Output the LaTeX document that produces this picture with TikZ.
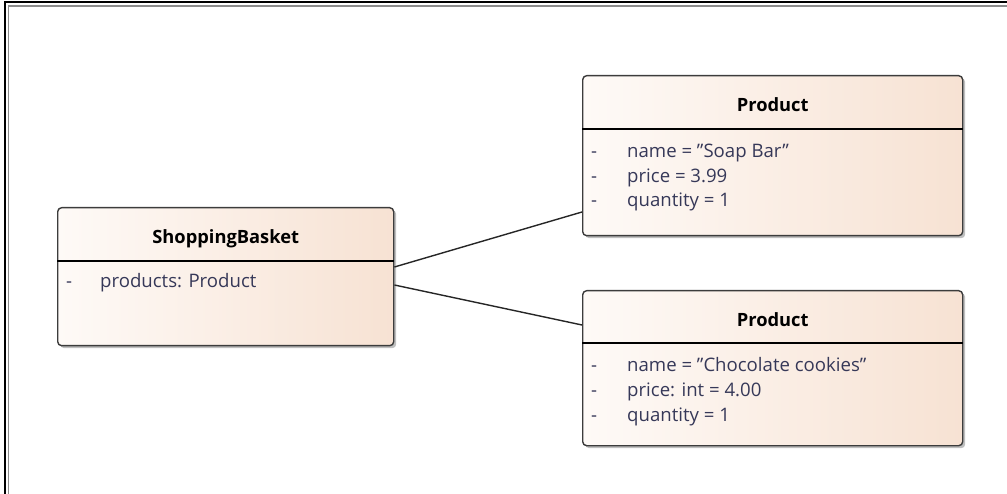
\documentclass[tikz,border=0pt]{standalone}
\usepackage{fontspec}
\setmainfont{Open Sans}
\usetikzlibrary{shadows}
\definecolor{boxleft}{HTML}{FEFAF7}
\definecolor{boxright}{HTML}{F7E2D3}
\definecolor{attr}{HTML}{363858}
\definecolor{edge}{HTML}{3C3C3C}
\tikzset{
  cls/.style={draw=edge, line width=1.4pt, rounded corners=4pt, anchor=north west,
    left color=boxleft, right color=boxright, inner sep=0pt,
    drop shadow={shadow xshift=2.5pt, shadow yshift=-2.5pt, opacity=0.25, fill=black}},
  title/.style={font=\fontsize{18.3}{22}\selectfont\bfseries, text=black, inner sep=0pt, anchor=base},
  attrtxt/.style={font=\fontsize{18.6}{22}\selectfont, text=attr, anchor=base west, inner sep=0pt},
  sep/.style={draw=black, line width=1.2pt},
  link/.style={draw=black!85, line width=1.4pt},
}
\begin{document}
\begin{tikzpicture}[x=1pt,y=-1pt]
\useasboundingbox (0,0) rectangle (1007,494);
% frame
\draw[line width=2pt, black] (1007,2) -- (5,2) -- (5,494);
\draw[line width=1.5pt, black!45] (1007,6) -- (8.5,6) -- (8.5,494);

% ShoppingBasket
\node[cls, minimum width=336pt, minimum height=138pt] (sb) at (57,207) {};
\draw[sep] ([yshift=-54pt]sb.north west) -- ([yshift=-54pt]sb.north east);
\node[title] (sbt) at ([yshift=-37pt]sb.north) {ShoppingBasket};
\node[attrtxt] (sbd1) at ([xshift=9pt,yshift=-81pt]sb.north west) {-};
\node[attrtxt] (sba1) at ([xshift=43pt,yshift=-81pt]sb.north west) {products: Product};

% Product 1
\node[cls, minimum width=380pt, minimum height=160pt] (p1) at (582,75) {};
\draw[sep] ([yshift=-54pt]p1.north west) -- ([yshift=-54pt]p1.north east);
\node[title] (p1t) at ([yshift=-37pt]p1.north) {Product};
\node[attrtxt] (p1d1) at ([xshift=9pt,yshift=-83pt]p1.north west) {-};
\node[attrtxt] (p1d2) at ([xshift=9pt,yshift=-108pt]p1.north west) {-};
\node[attrtxt] (p1d3) at ([xshift=9pt,yshift=-132pt]p1.north west) {-};
\node[attrtxt] (p1a1) at ([xshift=45pt,yshift=-83pt]p1.north west) {name = "Soap Bar"};
\node[attrtxt] (p1a2) at ([xshift=45pt,yshift=-108pt]p1.north west) {price = 3.99};
\node[attrtxt] (p1a3) at ([xshift=45pt,yshift=-132pt]p1.north west) {quantity = 1};

% Product 2
\node[cls, minimum width=380pt, minimum height=155pt] (p2) at (582,290) {};
\draw[sep] ([yshift=-53pt]p2.north west) -- ([yshift=-53pt]p2.north east);
\node[title] (p2t) at ([yshift=-37pt]p2.north) {Product};
\node[attrtxt] (p2d1) at ([xshift=9pt,yshift=-82pt]p2.north west) {-};
\node[attrtxt] (p2d2) at ([xshift=9pt,yshift=-106pt]p2.north west) {-};
\node[attrtxt] (p2d3) at ([xshift=9pt,yshift=-131pt]p2.north west) {-};
\node[attrtxt] (p2a1) at ([xshift=45pt,yshift=-82pt]p2.north west) {name = "Chocolate cookies"};
\node[attrtxt] (p2a2) at ([xshift=45pt,yshift=-106pt]p2.north west) {price: int = 4.00};
\node[attrtxt] (p2a3) at ([xshift=45pt,yshift=-131pt]p2.north west) {quantity = 1};

% links
\draw[link] ([yshift=-60pt]sb.north east) -- ([yshift=-137pt]p1.north west);
\draw[link] ([yshift=-78pt]sb.north east) -- ([yshift=-35pt]p2.north west);
\end{tikzpicture}
\end{document}
